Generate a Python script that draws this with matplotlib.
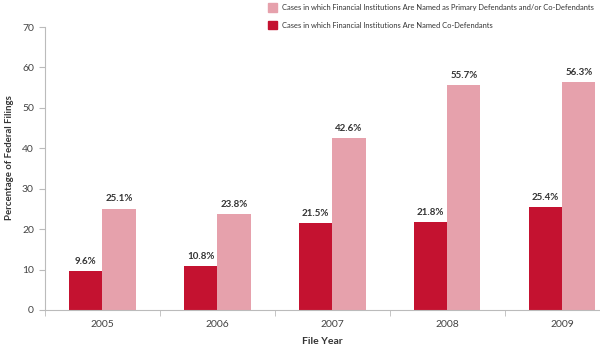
import matplotlib
matplotlib.use("Agg")
import matplotlib.pyplot as plt
import numpy as np
from matplotlib.patches import Patch

years = ["2005", "2006", "2007", "2008", "2009"]
codef = [9.6, 10.8, 21.5, 21.8, 25.4]
primary = [25.1, 23.8, 42.6, 55.7, 56.3]
label_primary = "Cases in which Financial Institutions Are Named as Primary Defendants and/or Co-Defendants"
label_codef = "Cases in which Financial Institutions Are Named Co-Defendants"

dark = "#C41230"
pink = "#E6A1AC"
axis_col = "#BBBBBB"
text_col = "#333333"

plt.rcParams['font.family'] = ['Lato', 'DejaVu Sans']

fig = plt.figure(figsize=(6.0, 3.54), dpi=100)
ax = fig.add_axes([0.075, 0.1243, 0.925, 0.7994])

x = np.arange(len(years))
w = 0.29
ax.bar(x - w/2, codef, width=w, color=dark, zorder=2)
ax.bar(x + w/2, primary, width=w, color=pink, zorder=2)

for xi, v in zip(x - w/2, codef):
    ax.text(xi, v + 1.3, f"{v}%", ha="center", va="bottom", fontsize=7,
            fontweight="bold", color=text_col)
for xi, v in zip(x + w/2, primary):
    ax.text(xi, v + 1.3, f"{v}%", ha="center", va="bottom", fontsize=7,
            fontweight="bold", color=text_col)

ax.set_yticks(range(0, 71, 10))
ax.set_xticks(x)
ax.set_xticklabels(years)
ax.set_xticks(np.arange(-0.5, 4.33, 1.0), minor=True)
ax.set_ylim(0, 70)
ax.set_xlim(-0.5, 4.33)
ax.tick_params(axis="x", which="major", length=0, labelsize=7.5, colors="#444444", pad=7)
ax.tick_params(axis="x", which="minor", length=4, color=axis_col, direction="out")
ax.tick_params(axis="y", length=4, color=axis_col, labelsize=7.5, labelcolor="#444444", pad=4)

for s in ["top", "right"]:
    ax.spines[s].set_visible(False)
ax.spines["left"].set_color(axis_col)
ax.spines["bottom"].set_color(axis_col)
ax.spines["left"].set_linewidth(0.8)
ax.spines["bottom"].set_linewidth(0.8)

ax.set_xlabel("File Year", fontsize=7.5, fontweight="bold", color=text_col, labelpad=6)
ax.set_ylabel("Percentage of Federal Filings", fontsize=6.9, fontweight="bold", color=text_col)
ax.yaxis.set_label_coords(-0.056, 0.54)

handles = [Patch(color=pink), Patch(color=dark)]
fig.legend(handles, [label_primary, label_codef], loc="upper left",
           bbox_to_anchor=(0.435, 1.01), frameon=False, fontsize=5.4,
           handlelength=1.25, handleheight=1.35, handletextpad=0.6,
           labelspacing=1.25, labelcolor=text_col)

fig.savefig("out.png", dpi=100)
